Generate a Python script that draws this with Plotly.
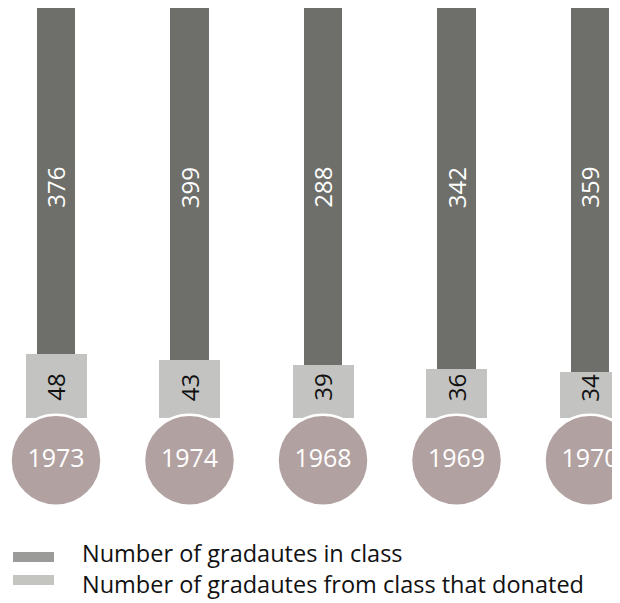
import plotly.graph_objects as go

years = ["1973", "1974", "1968", "1969", "1970"]
graduates = [376, 399, 288, 342, 359]
donated = [48, 43, 39, 36, 34]

legend_labels = ["Number of gradautes in class",
                 "Number of gradautes from class that donated"]

DARK = "#6e6f6a"
LIGHT = "#c3c3c1"
CIRCLE = "#b2a1a1"
FONT = "Open Sans"

xs = list(range(len(years)))
BOX_BASE = -3

# page is offset by the 8px body margin
W, HT = 630, 595
OFF = 8

fig = go.Figure()

# graduates bar (starts at top of donated box, runs off the top)
fig.add_trace(go.Bar(
    x=xs, y=graduates, base=donated, width=0.285,
    marker=dict(color=DARK, line=dict(width=0)),
    name=legend_labels[0], showlegend=False, hoverinfo="skip",
))
# donated box
fig.add_trace(go.Bar(
    x=xs, y=[d - BOX_BASE for d in donated], base=BOX_BASE, width=0.457,
    marker=dict(color=LIGHT, line=dict(width=0)),
    name=legend_labels[1], showlegend=False, hoverinfo="skip",
))
# year circles
fig.add_trace(go.Scatter(
    x=xs, y=[-37] * len(xs), mode="markers+text", text=years,
    textposition="middle center",
    textfont=dict(family=FONT, size=25, color="white"),
    marker=dict(size=91, color=CIRCLE, line=dict(color="white", width=2.5)),
    cliponaxis=False, showlegend=False, hoverinfo="skip",
))

annotations = []
for i, (g, d) in enumerate(zip(graduates, donated)):
    annotations.append(dict(x=i, y=181, text=str(g), showarrow=False,
                            textangle=-90, xref="x", yref="y",
                            font=dict(family=FONT, size=24, color="white")))
    annotations.append(dict(x=i, y=21, text=str(d), showarrow=False,
                            textangle=-90, xref="x", yref="y",
                            font=dict(family=FONT, size=24, color="#111111")))

# legend (drawn manually as wide flat swatches)
PH = 502.0  # plot height in px (page y 8 .. 510)
def py(p):
    return (510 - p) / PH
def px(p):
    return (p - OFF) / W

shapes = [
    dict(type="rect", xref="paper", yref="paper", x0=px(13), x1=px(54),
         y0=py(562), y1=py(552), fillcolor="#9b9b99", line=dict(width=0)),
    dict(type="rect", xref="paper", yref="paper", x0=px(13), x1=px(54),
         y0=py(585), y1=py(575), fillcolor="#c4c4c0", line=dict(width=0)),
]
annotations.append(dict(x=px(80), y=py(553), xref="paper", yref="paper",
                        text=legend_labels[0], showarrow=False,
                        xanchor="left", yanchor="middle",
                        font=dict(family=FONT, size=23.5, color="#111111")))
annotations.append(dict(x=px(80), y=py(584), xref="paper", yref="paper",
                        text=legend_labels[1], showarrow=False,
                        xanchor="left", yanchor="middle",
                        font=dict(family=FONT, size=23.5, color="#111111")))

x0 = -(56 - OFF) / 133.5
fig.update_layout(
    width=W, height=HT,
    margin=dict(l=0, r=0, t=0, b=HT - 502, pad=0),
    paper_bgcolor="white", plot_bgcolor="white",
    barmode="overlay", bargap=0,
    xaxis=dict(range=[x0, x0 + W / 133.5], visible=False, fixedrange=True),
    yaxis=dict(range=[-76.8, 324.8], visible=False, fixedrange=True),
    shapes=shapes, annotations=annotations,
)

fig.write_html(
    "out.html",
    post_script="document.documentElement.style.overflow='hidden';"
                "document.body.style.overflow='hidden';",
)
